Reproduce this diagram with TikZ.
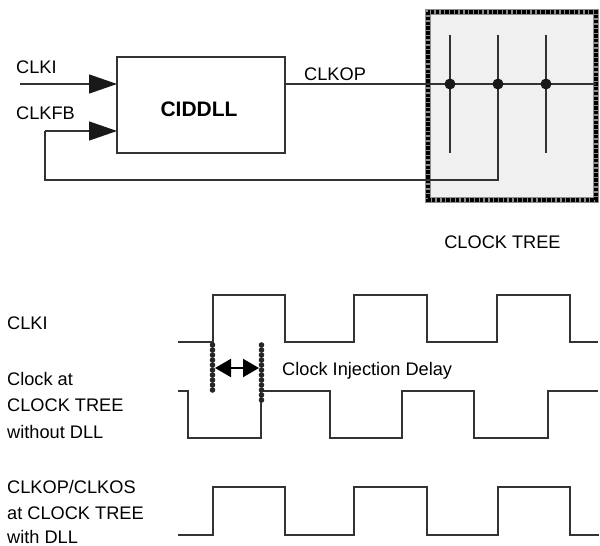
\documentclass[tikz,border=0pt]{standalone}
\usepackage{fontspec}
\setmainfont{Liberation Sans}
\usetikzlibrary{arrows.meta}
\definecolor{ln}{HTML}{333333}
\definecolor{treefill}{HTML}{F0F0F0}
\tikzset{
  lbl/.style={font=\fontsize{18.2}{21}\selectfont, inner sep=0pt, anchor=base west},
  wire/.style={draw=ln, line width=1.3pt},
  wave/.style={draw=ln, line width=1.5pt, line join=miter},
  inarrow/.style={wire, -{Triangle[length=28pt,width=19pt,color=black!90]}},
  bead/.style={fill=black!85},
  dot/.style={circle, fill=black!90, inner sep=0pt, minimum size=11pt},
}
\begin{document}
\begin{tikzpicture}[x=1pt,y=-1pt]
\useasboundingbox (0,0) rectangle (600,546);
% clock tree box
\draw[fill=treefill, draw=black!45, line width=5.5pt] (428,12) rectangle (596,200);
\draw[draw=black, line width=4.5pt, dash pattern=on 3.4pt off 1.4pt] (428,12) rectangle (596,200);
% DLL block
\node[draw=ln, line width=1.3pt, minimum width=168pt, minimum height=96pt, inner sep=0pt] (dll) at (201,105) {};
\node[font=\bfseries\fontsize{21}{24}\selectfont, inner sep=0pt, anchor=base] (dlltxt) at (199,116.5) {CIDDLL};
% coordinates
\coordinate (inA) at (20,84);
\coordinate (dllA) at (117,84);
\coordinate (dllB) at (117,131);
\coordinate (fbC) at (45,131);
\coordinate (fbD) at (45,180);
\coordinate (fbE) at (498,180);
\coordinate (outA) at (285,84);
\coordinate (outE) at (596,84);
\coordinate (t1a) at (450,35); \coordinate (t1b) at (450,153);
\coordinate (t2a) at (498,35);
\coordinate (t3a) at (546,35); \coordinate (t3b) at (546,153);
% connectors
\draw[inarrow] (inA) -- (dllA);
\draw[inarrow] (fbC) -- (dllB);
\draw[wire] (outA) -- (outE);
\draw[wire] (t1a) -- (t1b);
\draw[wire] (t3a) -- (t3b);
\draw[wire] (t2a) -- (fbE) -- (fbD) -- (fbC);
\node[dot] (d1) at (450,84) {};
\node[dot] (d2) at (498,84) {};
\node[dot] (d3) at (546,84) {};
% labels top
\node[lbl] (lclki) at (16,73) {CLKI};
\node[lbl] (lclkfb) at (16,119.5) {CLKFB};
\node[lbl] (lclkop) at (304,80) {CLKOP};
\node[lbl, anchor=base] (ltree) at (502.5,248) {CLOCK TREE};
% waveform labels
\node[lbl] (w1l) at (7,329) {CLKI};
\node[lbl] (w2l1) at (7,385) {Clock at};
\node[lbl] (w2l2) at (7,411.5) {CLOCK TREE};
\node[lbl] (w2l3) at (7,438) {without DLL};
\node[lbl] (w3l1) at (7,493) {CLKOP/CLKOS};
\node[lbl] (w3l2) at (7,519) {at CLOCK TREE};
\node[lbl] (w3l3) at (7,543) {with DLL};
% waveforms
\draw[wave] (178,342) -- (213,342) -- (213,295) -- (285,295) -- (285,342) -- (354,342) -- (354,295) -- (427,295) -- (427,342) -- (497,342) -- (497,295) -- (570,295) -- (570,342) -- (598,342);
\draw[wave] (178,391) -- (188,391) -- (188,438) -- (261,438) -- (261,391) -- (330,391) -- (330,438) -- (402,438) -- (402,391) -- (474,391) -- (474,438) -- (548,438) -- (548,391) -- (598,391);
\draw[wave] (178,535) -- (213,535) -- (213,487) -- (285,487) -- (285,535) -- (354,535) -- (354,487) -- (427,487) -- (427,535) -- (498,535) -- (498,487) -- (570,487) -- (570,535) -- (599,535);
% delay markers (chains of beads)
\foreach \yy in {345,350,...,391} { \fill[bead] (212.5,\yy) circle (2.8pt); }
\foreach \yy in {345,350,...,400} { \fill[bead] (261.5,\yy) circle (2.8pt); }
\coordinate (arL) at (215,368); \coordinate (arR) at (259,368);
\draw[draw=black, line width=2pt, {Triangle[length=16pt,width=18pt]}-{Triangle[length=16pt,width=18pt]}] (arL) -- (arR);
\node[lbl] (ldelay) at (282,375) {Clock Injection Delay};
\end{tikzpicture}
\end{document}
